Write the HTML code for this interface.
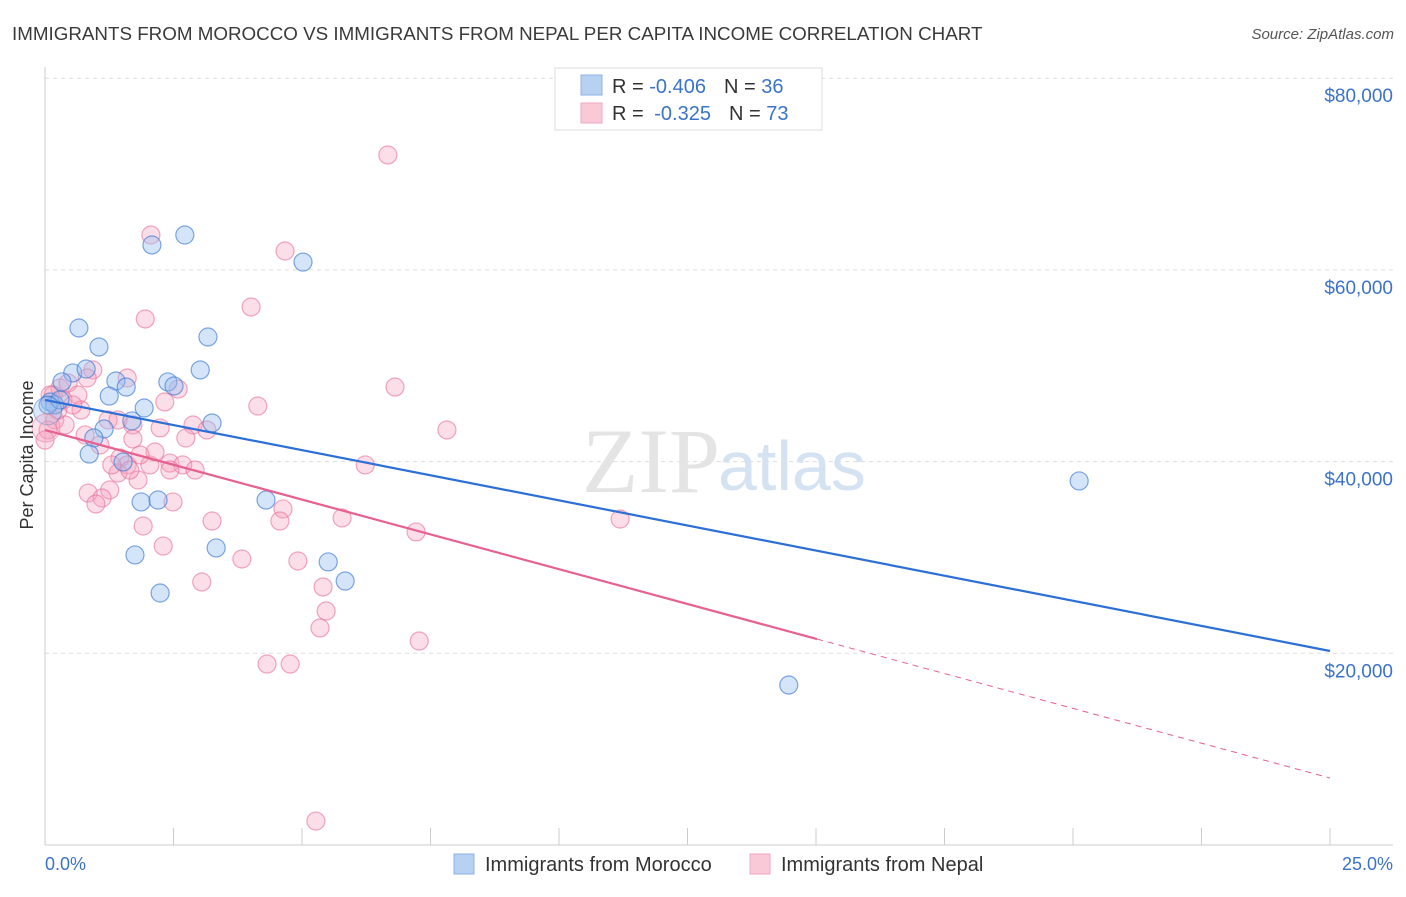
<!DOCTYPE html>
<html><head><meta charset="utf-8"><style>
body{margin:0;background:#fff;font-family:"Liberation Sans",sans-serif;}
</style></head><body>
<svg width="1406" height="892" xmlns="http://www.w3.org/2000/svg" font-family="Liberation Sans, sans-serif">
<text x="12" y="40" font-size="18.8" fill="#3a3a3a">IMMIGRANTS FROM MOROCCO VS IMMIGRANTS FROM NEPAL PER CAPITA INCOME CORRELATION CHART</text>
<text x="1394" y="39" font-size="15" fill="#555" font-style="italic" text-anchor="end">Source: ZipAtlas.com</text>
<g id="grid"></g>
<text x="720" y="492" font-size="92" fill="#e4e4e4" text-anchor="end" font-family="Liberation Serif, serif">ZIP</text>
<text x="718" y="490" font-size="70" fill="#d4e2f2">atlas</text>
<g id="pts"></g>
<g id="lines"></g>
<text x="33" y="455" font-size="18" fill="#333" text-anchor="middle" transform="rotate(-90 33 455)">Per Capita Income</text>
<text x="45" y="870" font-size="18" fill="#3b73c9">0.0%</text>
<text x="1393" y="870" font-size="18" fill="#3b73c9" text-anchor="end">25.0%</text>
<g>
<rect x="555" y="68" width="267" height="62" fill="#fff" stroke="#ddd"/>
<rect x="581" y="75" width="21" height="20" fill="#b7d1f3" stroke="#8cb2e8"/>
<rect x="581" y="103" width="21" height="20" fill="#f9c9d8" stroke="#f0a6be"/>
<text x="612" y="93" font-size="20" fill="#333">R = <tspan fill="#3b73c9">-0.406</tspan><tspan dx="18">N = </tspan><tspan fill="#3b73c9">36</tspan></text>
<text x="612" y="120" font-size="20" fill="#333">R = <tspan dx="5" fill="#3b73c9">-0.325</tspan><tspan dx="18">N = </tspan><tspan fill="#3b73c9">73</tspan></text>
</g>
<g>
<rect x="454" y="854" width="20" height="20" fill="#b7d1f3" stroke="#8cb2e8"/>
<text x="485" y="871" font-size="20" fill="#333">Immigrants from Morocco</text>
<rect x="750" y="854" width="20" height="20" fill="#f9c9d8" stroke="#f0a6be"/>
<text x="781" y="871" font-size="20" fill="#333">Immigrants from Nepal</text>
</g>
</svg>
<script>
const yTicks=[20000,40000,60000,80000];
const yTickLabels=["$20,000","$40,000","$60,000","$80,000"];
const xTicks=[0,2.5,5,7.5,10,12.5,15,17.5,20,22.5,25];
const moroccoX=[2.72,2.08,5.02,0.66,3.17,1.05,3.02,0.54,0.80,0.33,1.38,2.39,1.58,2.51,1.25,1.93,0.10,0.19,1.69,3.25,1.15,0.95,0.86,1.52,20.12,4.30,1.87,2.20,3.33,1.75,5.51,5.84,2.24,14.47,0.06,0.29];
const moroccoY=[63640,62600,60820,53940,53000,51960,49560,49250,49660,48310,48410,48310,47780,47890,46840,45590,46220,45910,44240,44030,43400,42460,40790,39960,37980,35990,35790,35990,30990,30260,29530,27540,26290,16690,45910,46430];
const nepalX=[6.67,2.06,4.67,4.01,1.95,6.81,0.93,0.82,0.29,0.45,1.60,2.59,0.16,0.64,0.35,0.70,4.14,2.33,7.82,1.23,1.42,1.71,2.24,2.88,3.15,0.19,0.39,2.74,1.71,1.46,1.60,2.04,2.43,2.68,6.23,2.14,1.42,1.81,0.84,1.26,1.11,0.99,2.49,4.63,3.25,4.57,5.78,11.19,1.91,7.22,2.30,3.83,4.92,3.05,5.41,5.47,5.35,7.28,4.32,4.77,5.27,0.06,0.00,0.25,0.54,1.30,1.85,0.78,1.07,2.43,2.92,1.65,0.10];
const nepalY=[71990,63640,61970,56130,54880,47780,49560,48720,47680,48200,48720,47570,46950,46950,46430,45380,45800,46220,43300,44340,44340,43820,43510,43820,43300,44340,43820,42460,42360,40380,39650,39650,39850,39650,39650,41000,38810,38080,36720,37040,36200,35580,35790,35060,33800,33800,34120,34010,33280,32660,31190,29840,29630,27440,26920,24410,22640,21280,18880,18880,2500,43300,42250,45380,45910,39650,40690,42780,41730,39120,39120,39120,46950];
const moroccoTrend=[46430,20240];
const nepalTrend=[43300,6990];
const nepalSolidEnd=15.02;

const NS="http://www.w3.org/2000/svg";
const X0=45,X1=1330,Y0=845,PXPER=191.7/20000;
const sx=v=>X0+(v/25)*(X1-X0);
const sy=v=>Y0-v*PXPER;
function mk(t,a,p){const e=document.createElementNS(NS,t);for(const k in a)e.setAttribute(k,a[k]);p.appendChild(e);return e;}
const grid=document.getElementById('grid');
yTicks.forEach((v,i)=>{
 const l=mk('line',{x1:X0,x2:1393,y1:sy(v),y2:sy(v),stroke:'#ddd','stroke-dasharray':'4,4'},grid);
 
 
 const t=mk('text',{x:1393,y:sy(v)+24,'font-size':19,fill:'#3b73c9','text-anchor':'end'},grid);
 t.textContent=yTickLabels[i];
 
 
});
const ax=mk('line',{x1:X0,x2:1393,y1:Y0,y2:Y0,stroke:'#ccc'},grid);


const ay=mk('line',{x1:X0,x2:X0,y1:67,y2:Y0,stroke:'#ccc'},grid);


xTicks.forEach(v=>{
 const t=mk('line',{x1:sx(v),x2:sx(v),y1:Y0-17,y2:Y0,stroke:'#ccc'},grid);
 
 
});
const pts=document.getElementById('pts');
nepalX.forEach((v,i)=>{
 const c=mk('circle',{cx:sx(v),cy:sy(nepalY[i]),r:9,fill:'rgba(246,160,190,0.35)',stroke:'rgba(232,110,150,0.6)','stroke-width':1.2},pts);
 
 
});
moroccoX.forEach((v,i)=>{
 const c=mk('circle',{cx:sx(v),cy:sy(moroccoY[i]),r:9,fill:'rgba(150,190,240,0.4)',stroke:'rgba(60,120,210,0.65)','stroke-width':1.2},pts);
 
 
});
const big1=mk('circle',{cx:sx(0.05),cy:sy(45300),r:14,fill:'rgba(150,190,240,0.35)',stroke:'rgba(60,120,210,0.5)'},pts);


const big2=mk('circle',{cx:sx(0.02),cy:sy(43500),r:14,fill:'rgba(246,160,190,0.3)',stroke:'rgba(232,110,150,0.5)'},pts);


const lines=document.getElementById('lines');
const bl=mk('line',{x1:sx(0),y1:sy(moroccoTrend[0]),x2:sx(25),y2:sy(moroccoTrend[1]),stroke:'#2c6fd6','stroke-width':2.2},lines);


const pAt=x=>nepalTrend[0]+(nepalTrend[1]-nepalTrend[0])*x/25;
const pl=mk('line',{x1:sx(0),y1:sy(nepalTrend[0]),x2:sx(nepalSolidEnd),y2:sy(pAt(nepalSolidEnd)),stroke:'#e8608f','stroke-width':2.2},lines);


const pd=mk('line',{x1:sx(nepalSolidEnd),y1:sy(pAt(nepalSolidEnd)),x2:sx(25),y2:sy(nepalTrend[1]),stroke:'#e8608f','stroke-width':1,'stroke-dasharray':'6,5'},lines);


</script>
</body></html>
